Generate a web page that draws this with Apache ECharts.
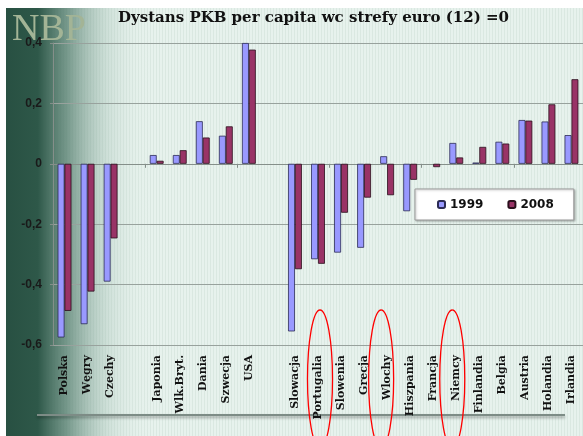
<!DOCTYPE html>
<html>
<head>
<meta charset="utf-8">
<script src="https://cdn.jsdelivr.net/npm/echarts@6/dist/echarts.min.js"></script>
<style>
html, body { margin: 0; padding: 0; background: #fff; }
#chart { width: 583px; height: 436px; }
</style>
</head>
<body>
<div id="chart"></div>
<script>
let categories = ['Polska', 'Węgry', 'Czechy', ' ', 'Japonia', 'Wlk.Bryt.', 'Dania', 'Szwecja', 'USA', '  ',
    'Slowacja', 'Portugalia', 'Slowenia', 'Grecja', 'Wlochy', 'Hiszpania', 'Francja', 'Niemcy',
    'Finlandia', 'Belgia', 'Austria', 'Holandia', 'Irlandia'];
let values1999 = [-0.575, -0.531, -0.39, null, 0.029, 0.029, 0.141, 0.093, 0.40, null,
    -0.555, -0.316, -0.294, -0.278, 0.025, -0.157, null, 0.069, 0.004, 0.073, 0.145, 0.14, 0.095];
let values2008 = [-0.487, -0.423, -0.247, null, 0.01, 0.045, 0.087, 0.124, 0.378, null,
    -0.349, -0.331, -0.162, -0.112, -0.104, -0.053, -0.011, 0.021, 0.056, 0.067, 0.143, 0.197, 0.28];
let seriesNames = ['1999', '2008'];
let circled = ['Portugalia', 'Wlochy', 'Niemcy'];
let circleShift = [2, -6, -4];

// fine vertical stripes of the slide background
let stripe = document.createElement('canvas');
stripe.width = 3;
stripe.height = 8;
let ctx = stripe.getContext('2d');
ctx.fillStyle = '#e7f2ed';
ctx.fillRect(0, 0, 3, 8);
ctx.fillStyle = '#dae8e1';
ctx.fillRect(0, 0, 1, 8);

let chart = echarts.init(document.getElementById('chart'));

let backgroundGraphic = [
    {
        type: 'rect', z: -20, silent: true,
        shape: { x: 6, y: 8, width: 577, height: 428 },
        style: { fill: { image: stripe, repeat: 'repeat' } }
    },
    {
        type: 'rect', z: -19, silent: true,
        shape: { x: 6, y: 8, width: 145, height: 428 },
        style: {
            fill: new echarts.graphic.LinearGradient(0, 0, 1, 0, [
                { offset: 0, color: 'rgba(40,80,66,1)' },
                { offset: 0.22, color: 'rgba(46,88,73,1)' },
                { offset: 0.42, color: 'rgba(90,130,115,0.8)' },
                { offset: 0.7, color: 'rgba(160,190,178,0.35)' },
                { offset: 1, color: 'rgba(231,242,237,0)' }
            ])
        }
    },
    {
        type: 'text', z: -18, silent: true,
        style: {
            text: 'NBP', x: 12, y: 30,
            font: '38px "Liberation Serif"',
            fill: '#a3b496',
            textVerticalAlign: 'middle',
            shadowBlur: 3, shadowColor: 'rgba(0,0,0,0.6)', shadowOffsetX: 1, shadowOffsetY: 2
        }
    },
    {
        type: 'line', z: -5, silent: true,
        shape: { x1: 37, y1: 415, x2: 565, y2: 415 },
        style: { stroke: '#7d8c86', lineWidth: 2, shadowBlur: 3, shadowColor: 'rgba(0,0,0,0.35)', shadowOffsetY: 2 }
    }
];

let option = {
    animation: false,
    backgroundColor: '#ffffff',
    title: {
        text: 'Dystans PKB per capita wc strefy euro (12) =0',
        left: 113,
        top: 6,
        textStyle: { fontFamily: 'DejaVu Serif', fontWeight: 'bold', fontSize: 15, color: '#111' }
    },
    legend: {
        left: 415,
        top: 189,
        padding: [8, 20, 8, 22],
        itemWidth: 7,
        itemHeight: 7,
        itemGap: 24,
        backgroundColor: '#ffffff',
        borderColor: '#9a9a9a',
        borderWidth: 1,
        shadowBlur: 2,
        shadowColor: 'rgba(0,0,0,0.25)',
        shadowOffsetX: 1,
        shadowOffsetY: 1,
        textStyle: { fontFamily: 'DejaVu Sans', fontWeight: 'bold', fontSize: 12, color: '#111', lineHeight: 15 },
        data: seriesNames
    },
    grid: { left: 53, right: -6, top: 43, bottom: 91 },
    xAxis: [
        {
            type: 'category',
            data: categories,
            position: 'bottom',
            axisLine: { onZero: true, lineStyle: { color: '#858f8a', width: 1 } },
            axisTick: { show: true, length: 4, lineStyle: { color: '#858f8a' } },
            axisLabel: { show: false },
            splitLine: { show: false }
        },
        {
            type: 'category',
            data: categories,
            position: 'bottom',
            axisLine: { show: false, onZero: false },
            axisTick: { show: false },
            axisLabel: {
                rotate: 90,
                margin: 10,
                interval: 0,
                fontFamily: 'DejaVu Serif',
                fontWeight: 'bold',
                fontSize: 11,
                color: '#111'
            }
        }
    ],
    yAxis: {
        type: 'value',
        min: -0.6,
        max: 0.4,
        interval: 0.2,
        axisLine: { show: true, lineStyle: { color: '#858f8a' } },
        axisTick: { show: true, length: 3, lineStyle: { color: '#858f8a' } },
        splitLine: { lineStyle: { color: '#98a29d', width: 1 } },
        axisLabel: {
            margin: 11,
            fontFamily: 'Liberation Sans',
            fontWeight: 'bold',
            fontSize: 12,
            color: '#1a1a1a',
            formatter: function (value) {
                let v = Math.round(value * 10) / 10;
                return v === 0 ? '0' : String(v).replace('.', ',');
            }
        }
    },
    series: [
        {
            name: seriesNames[0],
            type: 'bar',
            data: values1999,
            barGap: '0%',
            barCategoryGap: '40%',
            itemStyle: { color: '#9999ff', borderColor: '#2b2b55', borderWidth: 0.8 }
        },
        {
            name: seriesNames[1],
            type: 'bar',
            data: values2008,
            barGap: '0%',
            barCategoryGap: '40%',
            itemStyle: { color: '#993366', borderColor: '#2a0f1c', borderWidth: 0.8 }
        }
    ],
    graphic: backgroundGraphic
};

chart.setOption(option);

// red ellipses round three of the country labels, four quarter curves each
let k = 0.5523;
let ellipses = [];
circled.forEach(function (name, i) {
    let cx = chart.convertToPixel({ xAxisIndex: 0 }, name) + circleShift[i];
    let cy = 379, rx = 12.5, ry = 69;
    let quarters = [[1, 1], [1, -1], [-1, 1], [-1, -1]];
    quarters.forEach(function (q) {
        ellipses.push({
            type: 'bezierCurve', z: 50, silent: true,
            shape: {
                x1: cx + q[0] * rx, y1: cy,
                x2: cx, y2: cy + q[1] * ry,
                cpx1: cx + q[0] * rx, cpy1: cy + q[1] * ry * k,
                cpx2: cx + q[0] * rx * k, cpy2: cy + q[1] * ry
            },
            style: { fill: 'none', stroke: '#ff0000', lineWidth: 1.3 }
        });
    });
});
chart.setOption({ graphic: backgroundGraphic.concat(ellipses) });
</script>
</body>
</html>
